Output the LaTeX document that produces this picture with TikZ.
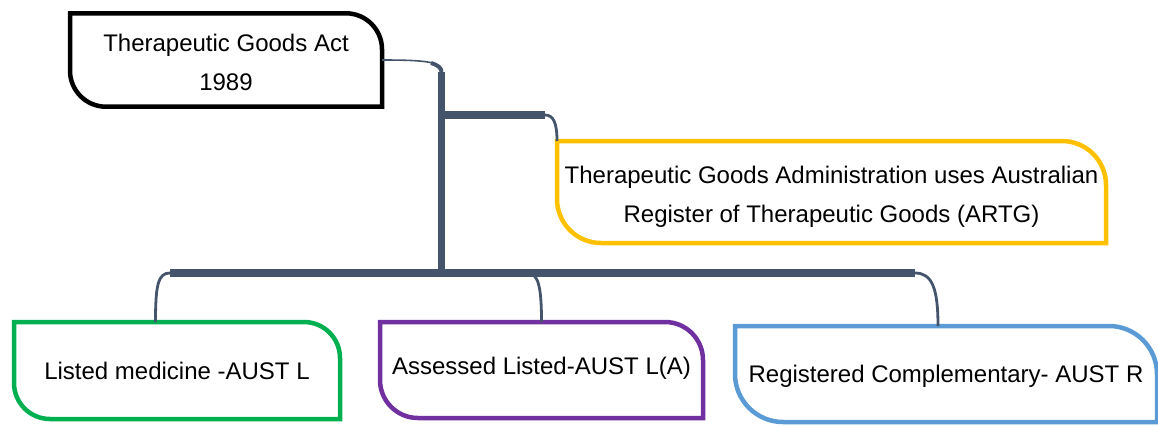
\documentclass[tikz,border=0pt]{standalone}
\usepackage{fontspec}
\setmainfont{Liberation Sans}
\usepackage{xcolor}
\usetikzlibrary{positioning,calc}
\definecolor{tgablack}{HTML}{000000}
\definecolor{tgayellow}{HTML}{FFC000}
\definecolor{tgagreen}{HTML}{00B050}
\definecolor{tgapurple}{HTML}{7030A0}
\definecolor{tgablue}{HTML}{5B9BD5}
\definecolor{tgaslate}{HTML}{44546A}

% leaf outline: node name, corner radius, colour
\newcommand{\leafbox}[3]{%
  \draw[line width=2.25pt, draw=#3]
    (#1.north west) -- ([xshift=-#2]#1.north east)
    arc[start angle=90, end angle=0, radius=#2] -- (#1.south east)
    -- ([xshift=#2]#1.south west)
    arc[start angle=270, end angle=180, radius=#2] -- cycle;}

\begin{document}
\begin{tikzpicture}[x=0.5pt, y=-0.5pt,
    frame/.style={inner sep=0pt, outer sep=0pt},
    txt/.style={inner sep=0pt, align=center, font=\fontsize{12}{19.3}\selectfont},
    link/.style={draw=tgaslate, line width=3.6pt},
    twig/.style={draw=tgaslate, line width=#1},
    twig/.default=1.4pt
]
  \clip (0,0) rectangle (1158,425);
  % Act
  \node[frame, minimum width=156pt, minimum height=46.7pt] (act) at (226,60) {};
  \node[txt] (act text) at ([yshift=-1.25pt]act.center) {Therapeutic Goods Act\\1989};
  % ARTG
  \node[frame, minimum width=274.5pt, minimum height=51pt] (artg) at (831.5,192) {};
  \node[txt] (artg text) at ([yshift=-2.5pt]artg.center)
    {Therapeutic Goods Administration uses Australian\\Register of Therapeutic Goods (ARTG)};
  % bottom row
  \node[frame, minimum width=163pt, minimum height=48.5pt] (listed) at (177,370.5) {};
  \node[txt] (listed text) at (listed.center) {Listed medicine -AUST L};
  \node[frame, minimum width=161.5pt, minimum height=48pt] (assessed) at (541.5,370) {};
  \node[txt] (assessed text) at ([yshift=1pt]assessed.center) {Assessed Listed-AUST L(A)};
  \node[frame, minimum width=211pt, minimum height=48pt] (registered) at (946,374) {};
  \node[txt] (registered text) at ([yshift=-1pt]registered.center) {Registered Complementary- AUST R};

  % outlines
  \leafbox{act}{18pt}{tgablack}
  \leafbox{artg}{22pt}{tgayellow}
  \leafbox{listed}{18pt}{tgagreen}
  \leafbox{assessed}{19pt}{tgapurple}
  \leafbox{registered}{24pt}{tgablue}

  % connectors
  \coordinate (flare) at (431,63);
  \coordinate (trunk top) at (441.5,72);
  \coordinate (fork) at (441.5,115);
  \coordinate (hub) at (441.5,273);
  \coordinate (artg bend) at (545,115);
  \coordinate (bar left) at (170,273);
  \coordinate (bar mid) at (527,273);
  \coordinate (bar right) at (915,273);

  \draw[twig=0.8pt] (act.east) .. controls (428,60) and (441.5,62) .. (trunk top);
  \draw[link] (trunk top) -- (hub);
  \draw[twig=2pt] (flare) .. controls (438,65) and (441.5,68) .. (trunk top);
  \draw[link] (fork) -- (artg bend);
  \draw[twig] (artg bend) .. controls (553,115) and (557,122) .. (artg.north west);
  \draw[link] (bar left) -- (bar right);
  \draw[twig] (bar left) .. controls (158,273) and (155.5,285) .. ([xshift=-10.75pt]listed.north);
  \draw[twig] (bar mid) .. controls (538,273) and (541.5,285) .. (assessed.north);
  \draw[twig] (bar right) .. controls (932,273) and (938,288) .. ([xshift=-4pt]registered.north);
\end{tikzpicture}
\end{document}
